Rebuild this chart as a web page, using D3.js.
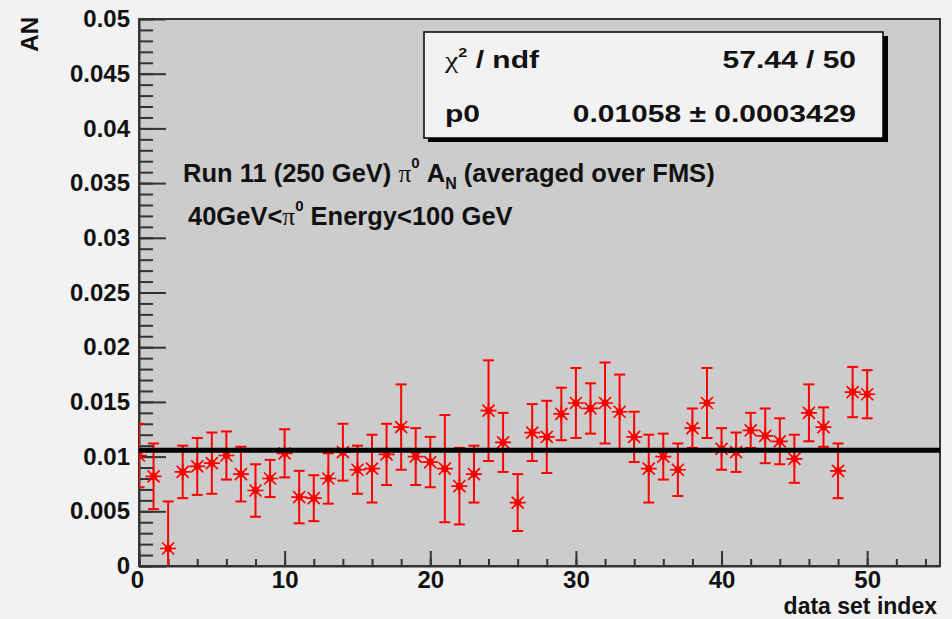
<!DOCTYPE html>
<html>
<head>
<meta charset="utf-8">
<script src="https://cdn.jsdelivr.net/npm/d3@7"></script>
<style>
  body { margin: 0; background: #f2f2f2; }
  svg { display: block; }
  text { font-family: "Liberation Sans", Arial, Helvetica, sans-serif; font-weight: bold; fill: #111; }
  .axis path, .axis line { stroke: #333; stroke-width: 2; }
  .axis text { font-size: 24px; fill: #111; }
</style>
</head>
<body>
<div id="chart"></div>
<script>

// data set index and measured AN with error
var dataIndex = [0,1,2,3,4,5,6,7,8,9,10,11,12,13,14,15,16,17,18,19,20,21,22,23,24,25,
  26,27,28,29,30,31,32,33,34,35,36,37,38,39,40,41,42,43,44,45,46,47,48,49,50];
var anValues = [0.0101,0.0082,0.0016,0.0086,0.0091,0.0094,0.0101,0.0084,0.0069,0.0080,
  0.0103,0.0063,0.0062,0.0080,0.0104,0.0088,0.0089,0.0102,0.0127,0.0100,
  0.0095,0.0089,0.0073,0.0084,0.0142,0.0113,0.0058,0.0122,0.0118,0.0139,
  0.0149,0.0144,0.0149,0.0141,0.0118,0.0089,0.0100,0.0088,0.0126,0.0149,
  0.0107,0.0104,0.0124,0.0119,0.0114,0.0098,0.0140,0.0127,0.0087,0.0159,0.0157];
var anErrors = [0.0029,0.0030,0.0043,0.0024,0.0026,0.0028,0.0022,0.0025,0.0024,0.0017,
  0.0022,0.0024,0.0021,0.0023,0.0026,0.0022,0.0031,0.0028,0.0039,0.0026,
  0.0023,0.0049,0.0035,0.0026,0.0046,0.0027,0.0026,0.0026,0.0033,0.0024,
  0.0032,0.0023,0.0037,0.0034,0.0023,0.0031,0.0021,0.0024,0.0018,0.0032,
  0.0019,0.0018,0.0016,0.0025,0.0021,0.0022,0.0026,0.0018,0.0025,0.0023,0.0022];

// fit result
var fitP0 = 0.01058;
var statLabels = ["\u03C7", "p0"];
var statValues = ["57.44 / 50", "0.01058 \u00B1 0.0003429"];

// axes
var xTickValues = [0, 10, 20, 30, 40, 50];
var yTickLabels = ["0", "0.005", "0.01", "0.015", "0.02", "0.025", "0.03", "0.035", "0.04", "0.045", "0.05"];
var xTitle = "data set index";
var yTitle = "AN";

var g = {};
g.fullWidth = 952;
g.fullHeight = 619;
g.margin = {top: 19, right: 12, bottom: 53, left: 139};
g.width = g.fullWidth - g.margin.left - g.margin.right;
g.height = g.fullHeight - g.margin.top - g.margin.bottom;

g.x = d3.scaleLinear().range([0, g.width]).domain([0, 55]);
g.y = d3.scaleLinear().range([g.height, 0]).domain([0, 0.05]);

var root = d3.select("#chart")
  .append("svg")
    .attr("width", g.fullWidth)
    .attr("height", g.fullHeight);

root.append("rect")
  .attr("width", g.fullWidth)
  .attr("height", g.fullHeight)
  .attr("fill", "#f2f2f2");

g.svg = root.append("g")
  .attr("transform", "translate(" + g.margin.left + "," + g.margin.top + ")");

// frame
g.svg.append("rect")
  .attr("width", g.width)
  .attr("height", g.height)
  .attr("fill", "#cccccc");

g.svg.append("clipPath")
  .attr("id", "plotClip")
  .append("rect")
    .attr("width", g.width)
    .attr("height", g.height);

// minor ticks
g.svg.append("g")
  .attr("class", "x axis")
  .attr("transform", "translate(0," + g.height + ")")
  .call(d3.axisBottom(g.x).tickValues(d3.range(0, 55, 2)).tickSize(-7).tickFormat(""))
  .select(".domain").remove();

g.svg.append("g")
  .attr("class", "y axis")
  .call(d3.axisLeft(g.y).tickValues(d3.range(0, 51).map(function(d) { return d / 1000; })).tickSize(-14).tickFormat(""))
  .select(".domain").remove();

// major ticks with labels
g.svg.append("g")
  .attr("class", "x axis")
  .attr("transform", "translate(0," + g.height + ")")
  .call(d3.axisBottom(g.x).tickValues(xTickValues).tickSizeInner(-15).tickSizeOuter(0).tickPadding(4));

g.svg.append("g")
  .attr("class", "y axis")
  .call(d3.axisLeft(g.y).tickValues(d3.range(0, 11).map(function(d) { return d * 0.005; }))
    .tickFormat(function(d, i) { return yTickLabels[i]; })
    .tickSizeInner(-27).tickSizeOuter(0).tickPadding(9));

g.svg.selectAll(".x.axis text").attr("dy", "0.74em");
g.svg.selectAll(".x.axis .tick:first-of-type text").attr("x", -2);

// frame border on top
g.svg.append("rect")
  .attr("width", g.width)
  .attr("height", g.height)
  .attr("fill", "none")
  .attr("stroke", "#333")
  .attr("stroke-width", 2);

// data points
var points = dataIndex.map(function(d, i) { return {x: d, y: anValues[i], e: anErrors[i]}; });

var marks = g.svg.append("g")
  .attr("clip-path", "url(#plotClip)");

var pt = marks.selectAll(".pt")
  .data(points)
  .enter().append("g")
    .attr("class", "pt")
    .attr("transform", function(d) { return "translate(" + g.x(d.x) + ",0)"; })
    .attr("stroke", "#ff0000")
    .attr("stroke-width", 2);

pt.append("line")
  .attr("x1", 0).attr("x2", 0)
  .attr("y1", function(d) { return g.y(d.y + d.e); })
  .attr("y2", function(d) { return g.y(d.y - d.e); });

pt.append("line")
  .attr("x1", -5.5).attr("x2", 5.5)
  .attr("y1", function(d) { return g.y(d.y + d.e); })
  .attr("y2", function(d) { return g.y(d.y + d.e); });

pt.append("line")
  .attr("x1", -5.5).attr("x2", 5.5)
  .attr("y1", function(d) { return g.y(d.y - d.e); })
  .attr("y2", function(d) { return g.y(d.y - d.e); });

// star marker
var star = pt.append("g")
  .attr("transform", function(d) { return "translate(0," + g.y(d.y) + ")"; });
star.append("path")
  .attr("stroke-width", 1.7)
  .attr("d", "M-8,0H8M0,-8V8M-6,-6L6,6M-6,6L6,-6");
star.append("circle")
  .attr("r", 3.5)
  .attr("stroke", "none")
  .attr("fill", "#ff0000");

// fit line
g.svg.append("line")
  .attr("x1", g.x(0))
  .attr("x2", g.x(55))
  .attr("y1", g.y(fitP0))
  .attr("y2", g.y(fitP0))
  .attr("stroke", "#000")
  .attr("stroke-width", 5);

// annotation text
var t1 = root.append("text")
  .attr("x", 183)
  .attr("y", 182)
  .style("font-size", "25.5px");
t1.append("tspan").text("Run 11 (250 GeV) ");
t1.append("tspan").style("font-family", "'Liberation Serif', serif").style("font-weight", "normal").text("\u03C0");
t1.append("tspan").attr("dy", -14).style("font-size", "15px").text("0");
t1.append("tspan").attr("dy", 14).text(" A");
t1.append("tspan").attr("dy", 7).style("font-size", "16px").text("N");
t1.append("tspan").attr("dy", -7).text(" (averaged over FMS)");

var t2 = root.append("text")
  .attr("x", 188)
  .attr("y", 225)
  .style("font-size", "25.5px");
t2.append("tspan").text("40GeV<");
t2.append("tspan").style("font-family", "'Liberation Serif', serif").style("font-weight", "normal").text("\u03C0");
t2.append("tspan").attr("dy", -14).style("font-size", "15px").text("0");
t2.append("tspan").attr("dy", 14).text(" Energy<100 GeV");

// stats box
root.append("rect")
  .attr("x", 428).attr("y", 36)
  .attr("width", 460).attr("height", 106)
  .attr("fill", "#000");
root.append("rect")
  .attr("x", 424).attr("y", 32)
  .attr("width", 459).attr("height", 106)
  .attr("fill", "#f2f2f2")
  .attr("stroke", "#000")
  .attr("stroke-width", 1.5);

var lab1 = root.append("text")
  .attr("transform", "translate(445,68) scale(1.25,1)")
  .style("font-size", "24px");
lab1.append("tspan").style("font-family", "'Liberation Serif', serif").style("font-weight", "normal").text(statLabels[0]);
lab1.append("tspan").attr("dy", -11).style("font-size", "13px").text("2");
lab1.append("tspan").attr("dy", 11).text(" / ndf");

root.append("text")
  .attr("transform", "translate(445,122) scale(1.25,1)")
  .style("font-size", "24px")
  .text(statLabels[1]);

root.selectAll(".statval")
  .data(statValues)
  .enter().append("text")
    .attr("class", "statval")
    .attr("transform", function(d, i) { return "translate(856," + (68 + i * 54) + ") scale(1.25,1)"; })
    .attr("text-anchor", "end")
    .style("font-size", "24px")
    .text(function(d) { return d; });

// axis titles
root.append("text")
  .attr("x", 937)
  .attr("y", 614)
  .attr("text-anchor", "end")
  .style("font-size", "23px")
  .text(xTitle);

root.append("text")
  .attr("transform", "translate(38,17) rotate(-90)")
  .attr("text-anchor", "end")
  .style("font-size", "24px")
  .text(yTitle);

</script>
</body>
</html>
